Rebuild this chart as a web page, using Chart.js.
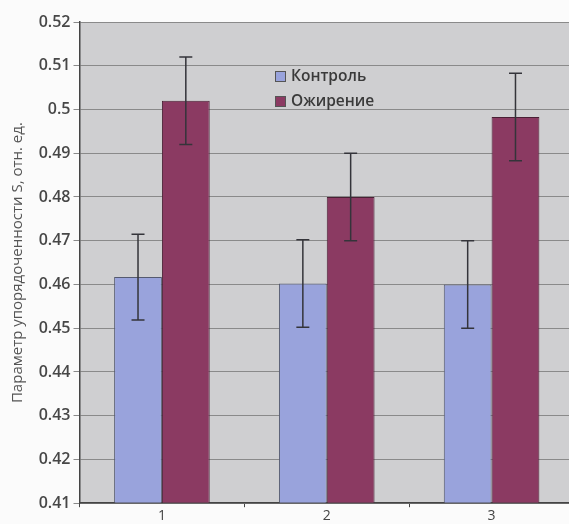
<!DOCTYPE html>
<html>
<head>
<meta charset="utf-8">
<script src="https://cdn.jsdelivr.net/npm/chart.js@4"></script>
<style>
  html, body { margin: 0; padding: 0; background: #fbfbfb; overflow: hidden; }
  #wrap { position: relative; width: 574px; height: 524px; }
</style>
</head>
<body>
<div id="wrap"><canvas id="chart"></canvas></div>
<script>
const categories = ['1', '2', '3'];
const controlValues = [0.4617, 0.4602, 0.4600];
const controlErrors = [0.0098, 0.0100, 0.0100];
const obesityValues = [0.5020, 0.4800, 0.4983];
const obesityErrors = [0.0100, 0.0100, 0.0100];
const seriesNames = ['Контроль', 'Ожирение'];
const yTitle = 'Параметр упорядоченности S, отн. ед.';

const plotBackground = {
  id: 'plotBackground',
  beforeDraw(chart) {
    const { ctx, chartArea } = chart;
    ctx.save();
    ctx.fillStyle = '#cfcfd1';
    ctx.fillRect(chartArea.left, chartArea.top, chartArea.right - chartArea.left, chartArea.bottom - chartArea.top);
    ctx.restore();
  }
};

const errorBars = {
  id: 'errorBars',
  afterDatasetsDraw(chart) {
    const { ctx } = chart;
    const y = chart.scales.y;
    ctx.save();
    ctx.strokeStyle = '#34343a';
    ctx.lineWidth = 1.5;
    chart.data.datasets.forEach((ds, i) => {
      const meta = chart.getDatasetMeta(i);
      meta.data.forEach((bar, j) => {
        const v = ds.data[j];
        const e = ds.errors[j];
        const top = y.getPixelForValue(v + e);
        const bottom = y.getPixelForValue(v - e);
        ctx.beginPath();
        ctx.moveTo(bar.x, top);
        ctx.lineTo(bar.x, bottom);
        ctx.moveTo(bar.x - 6.5, top);
        ctx.lineTo(bar.x + 6.5, top);
        ctx.moveTo(bar.x - 6.5, bottom);
        ctx.lineTo(bar.x + 6.5, bottom);
        ctx.stroke();
      });
    });
    ctx.restore();
  }
};

const innerLegend = {
  id: 'innerLegend',
  afterDraw(chart) {
    const { ctx } = chart;
    ctx.save();
    ctx.font = '600 15.5px "Open Sans", sans-serif';
    ctx.textBaseline = 'middle';
    chart.data.datasets.forEach((ds, i) => {
      const x = 275;
      const yy = 76 + i * 25;
      ctx.fillStyle = ds.backgroundColor;
      ctx.fillRect(x, yy - 5, 11, 11);
      ctx.strokeStyle = '#555';
      ctx.lineWidth = 1;
      ctx.strokeRect(x + 0.5, yy - 4.5, 10, 10);
      ctx.fillStyle = '#3a3a3a';
      ctx.fillText(ds.label, x + 16, yy + 1);
    });
    ctx.restore();
  }
};

new Chart(document.getElementById('chart'), {
  type: 'bar',
  data: {
    labels: categories,
    datasets: [{
      label: seriesNames[0],
      data: controlValues,
      errors: controlErrors,
      backgroundColor: '#99a3dc',
      borderColor: '#555a70',
      borderWidth: 1
    }, {
      label: seriesNames[1],
      data: obesityValues,
      errors: obesityErrors,
      backgroundColor: '#8b3a62',
      borderColor: '#4a2035',
      borderWidth: 1
    }]
  },
  options: {
    responsive: true,
    maintainAspectRatio: false,
    animation: false,
    layout: { padding: { top: 22, right: 0, left: 0, bottom: 0 } },
    datasets: {
      bar: { categoryPercentage: 0.58, barPercentage: 1, base: 0.41 }
    },
    plugins: {
      legend: { display: false },
      tooltip: { enabled: false }
    },
    scales: {
      x: {
        grid: { display: true, drawOnChartArea: false, color: '#444', tickLength: 4, offset: true },
        border: { color: '#444', width: 1.5 },
        ticks: { color: '#444', font: { family: '"Open Sans", sans-serif', size: 14 }, padding: 0 }
      },
      y: {
        min: 0.41,
        max: 0.52,
        afterFit(scale) { scale.width = 79.5; },
        grid: { color: '#8a8a8a', lineWidth: 1, tickLength: 6 },
        border: { color: '#444', width: 1.5 },
        ticks: {
          stepSize: 0.01,
          color: '#474747',
          padding: 3,
          font: { family: '"Open Sans", sans-serif', size: 16, weight: '600' },
          callback: v => String(parseFloat(v.toFixed(2)))
        },
        title: {
          display: true,
          text: yTitle,
          color: '#555',
          padding: { top: 9, bottom: 0 },
          font: { family: '"Open Sans", sans-serif', size: 15 }
        }
      }
    }
  },
  plugins: [plotBackground, errorBars, innerLegend]
});
</script>
</body>
</html>
